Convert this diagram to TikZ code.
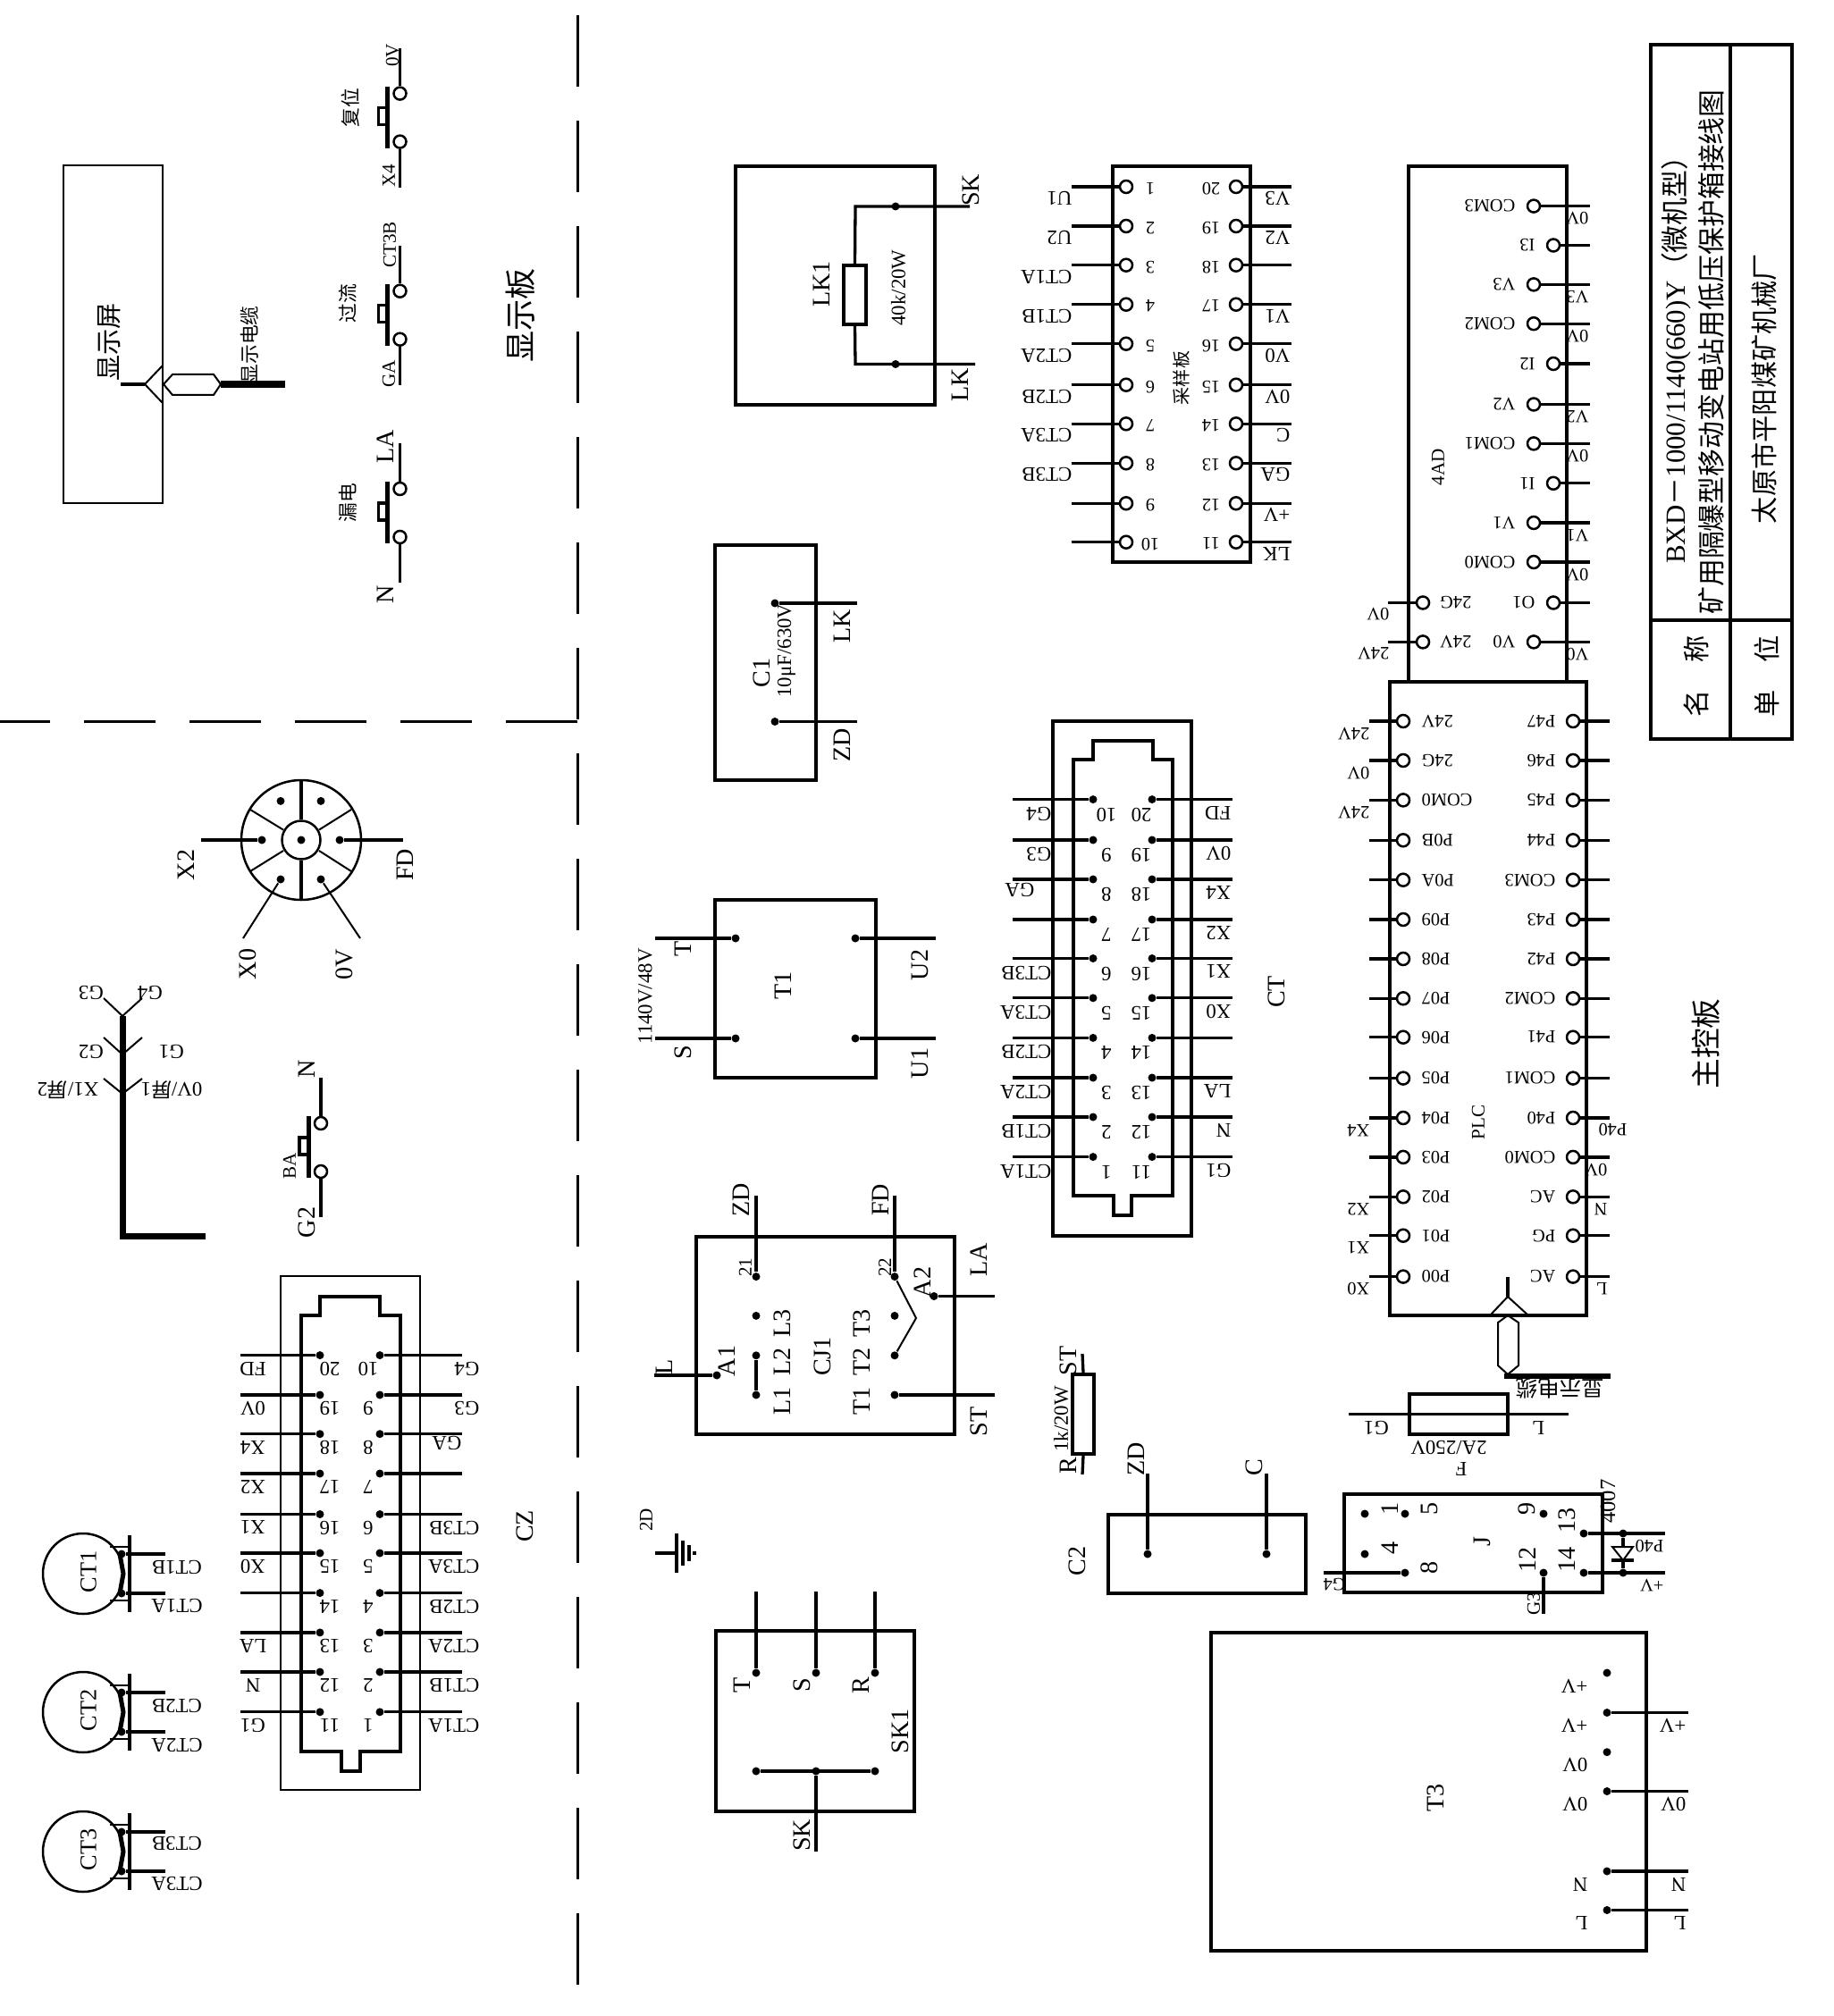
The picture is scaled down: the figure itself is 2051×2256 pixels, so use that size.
\documentclass[tikz,border=0pt]{standalone}
\usepackage{fontspec}
\setmainfont{Liberation Serif}
\newfontfamily\cjk{Noto Sans CJK SC}
\tikzset{
	wire/.style = {line width = 0.33mm},
	fine/.style = {line width = 0.2mm},
	bus/.style = {line width = 0.7mm},
	divider/.style = {line width = 0.3mm, dash pattern = on 8mm off 3.8mm},
	frame/.style = {draw, rectangle, line width = 0.42mm, inner sep = 0},
	thinframe/.style = {draw, rectangle, line width = 0.25mm, inner sep = 0},
	hollow/.style = {circle, draw, fill = white, line width = 0.25mm, minimum size = 1.4mm, inner sep = 0},
	spot/.style = {circle, fill, minimum size = 0.9mm, inner sep = 0},
	pinlab/.style = {rotate = 180, inner sep = 0, font = \fontsize{5.8}{7}\selectfont},
	bigpin/.style = {rotate = 180, inner sep = 0, font = \fontsize{6.5}{7}\selectfont},
	tag/.style = {rotate = 90, inner sep = 0, font = \fontsize{8}{9}\selectfont},
	smalltag/.style = {rotate = 90, inner sep = 0, font = \fontsize{6}{7}\selectfont},
	hanzi/.style = {rotate = 90, inner sep = 0, font = \cjk\fontsize{#1}{#1}\selectfont}
}
% box given by its two corners
\newcommand{\panel}[6][frame]{
	\node[#1, minimum width = {(#5-#3)*0.1mm}, minimum height = {(#6-#4)*0.1mm}] (#2) at ({(#3+#5)/2}, {(#4+#6)/2}) {};
}
\begin{document}
\begin{tikzpicture}[x = 0.1mm, y = -0.1mm]
	\useasboundingbox (0, 0) rectangle (2051, 2256);

	% dashed board limits
	\coordinate (vtop) at (646, 17);
	\coordinate (vbot) at (646, 2256);
	\coordinate (hleft) at (0, 807);
	\coordinate (hright) at (646, 807);
	\draw[divider] (vtop) -- (vbot);
	\draw[divider] (hright) -- (hleft);

	% title block
	\panel{title}{1847}{50}{2005}{827}
	\coordinate (tva) at (1936, 50);
	\coordinate (tvb) at (1936, 827);
	\coordinate (tha) at (1847, 694);
	\coordinate (thb) at (2005, 694);
	\draw[line width = 0.42mm] (tva) -- (tvb) (tha) -- (thb);
	\node[rotate = 90, inner sep = 0, font = \fontsize{8.8}{9}\selectfont] (tname) at (1876, 395) {BXD{\cjk－}1000/1140(660)Y{\cjk（微机型）}};
	\node[hanzi = 8.8] (tdesc) at (1915, 394) {矿用隔爆型移动变电站用低压保护箱接线图};
	\node[hanzi = 8.6] (tfirm) at (1974, 435) {太原市平阳煤矿机械厂};
	\node[hanzi = 8.6] (tming) at (1898, 787) {名};
	\node[hanzi = 8.6] (tcheng) at (1898, 726) {称};
	\node[hanzi = 8.6] (tdan) at (1977, 787) {单};
	\node[hanzi = 8.6] (twei) at (1977, 726) {位};

	% 4AD module
	\panel{adbox}{1576}{186}{1753}{763}
	\foreach \n/\x/\y/\lab/\ext in {0/1716/230.6/COM3/0V, 1/1738/274.5/I3/{}, 2/1716/318.4/V3/V3, 3/1716/362.2/COM2/0V, 4/1738/407/I2/{}, 5/1716/452.5/V2/V2, 6/1716/496.4/COM1/0V, 7/1738/540.8/I1/{}, 8/1716/585/V1/V1, 9/1716/629/COM0/0V, 10/1738/674.5/O1/{}, 11/1716/718.4/V0/V0} {
		\node[hollow] (ad\n) at (\x, \y) {};
		\coordinate (ade\n) at (1779, \y);
		\draw[wire] (ad\n) -- (ade\n);
		\node[pinlab, anchor = west] (adl\n) at ({\x-20}, \y) {\lab};
		\node[pinlab, anchor = west] (adx\n) at (1778, {\y+14}) {\ext};
	}
	\foreach \n/\y/\lab/\ext in {g/674.5/24G/0V, v/718.4/24V/24V} {
		\node[hollow] (ad\n) at (1592, \y) {};
		\coordinate (ade\n) at (1553, \y);
		\draw[wire] (ad\n) -- (ade\n);
		\node[pinlab, anchor = west] (adl\n) at (1647, \y) {\lab};
		\node[pinlab, anchor = west] (adx\n) at (1555, {\y+13}) {\ext};
	}
	\node[smalltag] (adname) at (1609, 523) {4AD};

	% PLC
	\panel{plc}{1555}{763}{1775}{1472}
	\foreach \n/\y/\la/\ra/\ea/\eb in {0/807/24V/P47/24V/{}, 1/851/24G/P46/0V/{}, 2/895.4/COM0/P45/24V/{}, 3/940.3/P0B/P44/{}/{}, 4/984.7/P0A/COM3/{}/{}, 5/1029/P09/P43/{}/{}, 6/1073/P08/P42/{}/{}, 7/1117.3/P07/COM2/{}/{}, 8/1160.7/P06/P41/{}/{}, 9/1206.6/P05/COM1/{}/{}, 10/1251/P04/P40/X4/{}, 11/1294.9/P03/COM0/{}/0V, 12/1339.3/P02/AC/X2/N, 13/1382.7/P01/PG/X1/{}, 14/1428.6/P00/AC/X0/L} {
		\node[hollow] (pa\n) at (1570, \y) {};
		\node[hollow] (pb\n) at (1760, \y) {};
		\coordinate (pae\n) at (1532, \y);
		\coordinate (pbe\n) at (1801, \y);
		\draw[wire] (pa\n) -- (pae\n);
		\draw[wire] (pb\n) -- (pbe\n);
		\node[pinlab, anchor = east] (pal\n) at (1590, \y) {\la};
		\node[pinlab, anchor = west] (pbl\n) at (1741, \y) {\ra};
		\node[pinlab, anchor = west] (pax\n) at (1533, {\y+14}) {\ea};
		\node[pinlab, anchor = west] (pbx\n) at (1799, {\y+14}) {\eb};
	}
	\node[pinlab, anchor = west] (pbp) at (1821, 1264) {P40};
	\node[smalltag] (plcname) at (1654, 1256) {PLC};

	% PLC cable plug
	\coordinate (pga) at (1687, 1429);
	\coordinate (pgb) at (1687, 1451);
	\coordinate (pgc) at (1667, 1472);
	\coordinate (pgd) at (1710, 1472);
	\coordinate (pge) at (1683, 1540);
	\coordinate (pgf) at (1802, 1540);
	\draw[wire] (pga) -- (pgb);
	\draw[fine] (pgc) -- (pgb) -- (pgd);
	\draw[fine] (1687, 1472) -- (1676, 1480) -- (1676, 1528) -- (1687, 1538) -- (1699, 1528) -- (1699, 1480) -- cycle;
	\draw[line width = 0.6mm] (pge) -- (pgf);
	\node[hanzi = 7, rotate = 90] (pgname) at (1745, 1554) {显示电缆};

	% fuse F
	\panel{fuse}{1577}{1560}{1687}{1605}
	\coordinate (fa) at (1509, 1582.5);
	\coordinate (fb) at (1755, 1582.5);
	\draw[wire] (fa) -- (fb);
	\node[bigpin] (fg) at (1540, 1598) {G1};
	\node[bigpin] (fl) at (1721, 1598) {L};
	\node[bigpin] (fv) at (1621, 1620) {2A/250V};
	\node[bigpin] (fn) at (1635, 1644) {F};

	% relay J
	\panel{relay}{1504}{1672}{1793}{1782}
	\foreach \n/\x/\y in {a/1527/1694, b/1572/1694, c/1727/1694, d/1772/1716, e/1527/1739, f/1572/1760, g/1727/1760, h/1772/1760, i/1816/1716, j/1816/1760} {
		\node[spot] (j\n) at (\x, \y) {};
	}
	\foreach \n/\x/\y/\lab in {1/1555/1688/1, 5/1599/1688/5, 4/1555/1732/4, 8/1599/1754/8, 0/1658/1725/J, 9/1708/1688/9, 12/1709/1745/12, 13/1753/1701/13, 14/1753/1745/14} {
		\node[tag] (jl\n) at (\x, \y) {\lab};
	}
	\coordinate (jga) at (1481, 1760);
	\coordinate (jgb) at (1727, 1806);
	\coordinate (jpa) at (1863, 1716);
	\coordinate (jpb) at (1863, 1760);
	\draw[wire] (jga) -- (jf);
	\draw[wire] (jg) -- (jgb);
	\draw[wire] (jd) -- (jpa);
	\draw[wire] (jh) -- (jpb);
	\node[pinlab] (jgl) at (1493, 1773) {G4};
	\node[smalltag] (jgm) at (1716, 1795) {G3};
	\node[rotate = 90, inner sep = 0, font = \fontsize{7}{8}\selectfont] (jdn) at (1799, 1680) {4007};
	\node[pinlab, anchor = west] (jpl) at (1862, 1730) {P40};
	\node[pinlab, anchor = west] (jpm) at (1862, 1774) {+V};
	% diode
	\coordinate (dta) at (1816, 1731);
	\coordinate (dtb) at (1816, 1746);
	\draw[wire] (ji) -- (dta) (dtb) -- (jj);
	\draw[fine] (1804, 1731) -- (1827, 1731) -- (dtb) -- cycle;
	\draw[wire] (1803, 1746) -- (1828, 1746);

	% T3
	\panel{tthree}{1355}{1827}{1842}{2183}
	\foreach \n/\y/\lab/\ext in {a/1872/+V/{}, b/1916.5/+V/+V, c/1960.7/0V/{}, d/2004.5/0V/0V, e/2094/N/N, f/2137.5/L/L} {
		\node[spot] (tt\n) at (1798, \y) {};
		\node[bigpin, anchor = west] (ttl\n) at (1777, {\y+14.5}) {\lab};
		\node[bigpin, anchor = west] (ttx\n) at (1887, {\y+14.5}) {\ext};
	}
	\foreach \n/\y in {b/1916.5, d/2004.5, e/2094, f/2137.5} {
		\coordinate (tte\n) at (1889, \y);
		\draw[wire] (tt\n) -- (tte\n);
	}
	\node[tag] (ttname) at (1606, 2012) {T3};

	% C2
	\panel{ctwo}{1240}{1695}{1461}{1783}
	\node[spot] (cta) at (1284, 1739) {};
	\node[spot] (ctb) at (1417, 1739) {};
	\coordinate (ctc) at (1284, 1649);
	\coordinate (ctd) at (1417, 1649);
	\draw[wire] (cta) -- (ctc);
	\draw[wire] (ctb) -- (ctd);
	\node[tag] (ctzd) at (1271, 1633) {ZD};
	\node[tag] (ctcc) at (1403, 1642) {C};
	\node[tag] (ctname) at (1205, 1747) {C2};

	% resistor R
	\panel{rbox}{1200}{1538}{1224}{1627}
	\coordinate (ra) at (1211, 1515);
	\coordinate (rb) at (1211, 1650);
	\draw[wire] (ra) -- (rbox.north);
	\draw[wire] (rbox.south) -- (rb);
	\node[tag] (rst) at (1195, 1523) {ST};
	\node[tag] (rr) at (1195, 1640) {R};
	\node[rotate = 90, inner sep = 0, font = \fontsize{6.5}{7}\selectfont] (rv) at (1187, 1588) {1k/20W};

	% contactor CJ1
	\panel{cjbox}{779}{1384}{1068}{1605}
	\foreach \n/\y in {a/1428.6, b/1472.4, c/1516.8, d/1561} {
		\node[spot] (cl\n) at (846, \y) {};
		\node[spot] (cr\n) at (1001, \y) {};
	}
	\node[spot] (cae) at (1045, 1450.5) {};
	\node[spot] (cal) at (802, 1539) {};
	\coordinate (cza) at (846, 1338);
	\coordinate (czb) at (1001, 1338);
	\coordinate (czc) at (1113, 1450.5);
	\coordinate (czd) at (1113, 1561);
	\coordinate (cze) at (732, 1539);
	\coordinate (coil) at (1025, 1475);
	\draw[wire] (cla) -- (cza);
	\draw[wire] (cra) -- (czb);
	\draw[wire] (cae) -- (czc);
	\draw[wire] (crd) -- (czd);
	\draw[wire] (cal) -- (cze);
	\draw[line width = 0.45mm] (clc) -- (cld);
	\draw[fine] (cra) -- (coil) -- (crc);
	\foreach \n/\x/\y/\lab in {zd/829/1343/ZD, fd/985/1343/FD, az/1032/1435/A2, la/1095/1410/LA, st/1095/1591/ST, ay/813/1523/A1, ll/743/1530/L, la1/875/1568/L1, la2/875/1524/L2, la3/875/1481/L3, ta1/964/1568/T1, ta2/964/1524/T2, ta3/964/1481/T3, nm/920/1518/CJ1} {
		\node[tag] (cj\n) at (\x, \y) {\lab};
	}
	\node[smalltag] (cjo) at (834, 1418) {21};
	\node[smalltag] (cjt) at (990, 1418) {22};

	% switch SK1
	\panel{skbox}{801}{1825}{1023}{2027}
	\foreach \n/\x/\lab in {a/846/T, b/913/S, c/979/R} {
		\node[spot] (sk\n) at (\x, 1872) {};
		\node[spot] (sd\n) at (\x, 1982) {};
		\coordinate (se\n) at (\x, 1781);
		\draw[wire] (sk\n) -- (se\n);
		\node[tag] (sl\n) at ({\x-16}, 1886) {\lab};
	}
	\coordinate (sout) at (913, 2072);
	\draw[wire] (sda) -- (sdc);
	\draw[wire] (sdb) -- (sout);
	\node[tag] (skout) at (897, 2054) {SK};
	\node[tag] (skname) at (1007, 1937) {SK1};

	% earth
	\coordinate (ea) at (733, 1738);
	\coordinate (eb) at (757, 1738);
	\draw[wire] (ea) -- (eb);
	\draw[wire] (757, 1716) -- (757, 1760);
	\draw[wire] (764, 1724) -- (764, 1752);
	\draw[wire] (771, 1729) -- (771, 1747);
	\draw[wire] (777, 1736) -- (777, 1740);
	\node[smalltag] (ename) at (723, 1701) {2D};

	% T1
	\panel{tone}{800}{1007}{980}{1206}
	\foreach \n/\x/\e/\y in {a/823/733/1050, b/823/733/1162, c/957/1047/1050, d/957/1047/1162} {
		\node[spot] (to\n) at (\x, \y) {};
		\coordinate (te\n) at (\e, \y);
		\draw[wire] (to\n) -- (te\n);
	}
	\foreach \n/\x/\y/\lab in {t/764/1062/T, s/764/1178/S, u/1029/1080/U2, v/1029/1190/U1, m/876/1103/T1} {
		\node[tag] (tl\n) at (\x, \y) {\lab};
	}
	\node[rotate = 90, inner sep = 0, font = \fontsize{6.5}{7}\selectfont] (tlr) at (722, 1115) {1140V/48V};

	% C1
	\panel{cone}{800}{610}{913}{873}
	\node[spot] (coa) at (867, 675) {};
	\node[spot] (cob) at (867, 807.5) {};
	\coordinate (coc) at (959, 675);
	\coordinate (cod) at (959, 807.5);
	\draw[wire] (coa) -- (coc);
	\draw[wire] (cob) -- (cod);
	\node[tag] (coname) at (852, 753) {C1};
	\node[rotate = 90, inner sep = 0, font = \fontsize{6.5}{7}\selectfont] (cov) at (880, 728) {10μF/630V};
	\node[tag] (colk) at (942, 701) {LK};
	\node[tag] (cozd) at (942, 834) {ZD};

	% LK1
	\panel{lkbox}{823}{186}{1046}{453}
	\panel{lkres}{944}{297}{969}{363}
	\node[spot] (lka) at (1002, 231) {};
	\node[spot] (lkb) at (1002, 407.5) {};
	\coordinate (lkc) at (957, 231);
	\coordinate (lkd) at (957, 407.5);
	\coordinate (lke) at (1085, 231);
	\coordinate (lkf) at (1091, 407.5);
	\draw[wire] (lke) -- (lkc) -- (lkres.north);
	\draw[wire] (lkf) -- (lkd) -- (lkres.south);
	\node[tag] (lkname) at (919, 318) {LK1};
	\node[rotate = 90, inner sep = 0, font = \fontsize{6.5}{7}\selectfont] (lkv) at (1005, 322) {40k/20W};
	\node[tag] (lksk) at (1086, 213) {SK};
	\node[tag] (lklk) at (1074, 431) {LK};

	% sampling board
	\panel{cyb}{1245}{186}{1399}{629}
	\foreach \n/\m/\y/\la/\ra in {1/20/209/U1/V3, 2/19/253/U2/V2, 3/18/296.7/CT1A/{}, 4/17/340.7/CT1B/V1, 5/16/384.7/CT2A/V0, 6/15/430.7/CT2B/0V, 7/14/474.3/CT3A/C, 8/13/518.3/CT3B/GA, 9/12/563.3/{}/+V, 10/11/606.7/{}/LK} {
		\node[hollow] (cyl\n) at (1260, \y) {};
		\node[hollow] (cyr\n) at (1383, \y) {};
		\coordinate (cyle\n) at (1199, \y);
		\coordinate (cyre\n) at (1445, \y);
		\draw[wire] (cyl\n) -- (cyle\n);
		\draw[wire] (cyr\n) -- (cyre\n);
		\node[pinlab] (cyn\n) at (1287, {\y+2}) {\n};
		\node[pinlab] (cym\n) at (1355, {\y+2}) {\m};
		\node[bigpin, anchor = west] (cyt\n) at (1200, {\y+13}) {\la};
		\node[bigpin, anchor = west] (cyu\n) at (1444, {\y+13}) {\ra};
	}
	\node[hanzi = 5.7] (cyname) at (1322, 423) {采样板};

	% connector CT
	\panel{ctout}{1178}{807}{1333}{1383}
	\draw[line width = 0.42mm] (1201, 850) -- (1223, 850) -- (1223, 829) -- (1290, 829) -- (1290, 850) -- (1312, 850) -- (1312, 1338) -- (1266, 1338) -- (1266, 1360) -- (1246, 1360) -- (1246, 1338) -- (1201, 1338) -- cycle;
	\foreach \n/\m/\y/\la/\ra in {10/20/894.6/G4/FD, 9/19/940/G3/0V, 8/18/984/{}/X4, 7/17/1029/{}/X2, 6/16/1072.5/CT3B/X1, 5/15/1116.8/CT3A/X0, 4/14/1161.4/CT2B/{}, 3/13/1206/CT2A/LA, 2/12/1250/CT1B/N, 1/11/1294.6/CT1A/G1} {
		\node[spot] (ctl\n) at (1223, \y) {};
		\node[spot] (ctr\n) at (1289, \y) {};
		\coordinate (ctle\n) at (1133, \y);
		\coordinate (ctre\n) at (1379, \y);
		\draw[wire] (ctl\n) -- (ctle\n);
		\draw[wire] (ctr\n) -- (ctre\n);
		\node[bigpin] (ctn\n) at (1238, {\y+17}) {\n};
		\node[bigpin] (ctm\n) at (1277, {\y+17}) {\m};
		\node[bigpin, anchor = west] (ctt\n) at (1177, {\y+16}) {\la};
		\node[bigpin, anchor = west] (ctu\n) at (1378, {\y+15}) {\ra};
	}
	\node[bigpin, anchor = west] (ctga) at (1158, 996) {GA};
	\node[tag] (ctconn) at (1428, 1110) {CT};

	% connector CZ
	\panel[thinframe]{czout}{314}{1428}{470}{2003}
	\draw[line width = 0.42mm] (337, 1472) -- (358, 1472) -- (358, 1451) -- (425, 1451) -- (425, 1472) -- (448, 1472) -- (448, 1960) -- (403, 1960) -- (403, 1982) -- (382, 1982) -- (382, 1960) -- (337, 1960) -- cycle;
	\foreach \n/\m/\y/\la/\ra in {10/20/1516.6/G4/FD, 9/19/1561/G3/0V, 8/18/1604.7/{}/X4, 7/17/1649/{}/X2, 6/16/1694.5/CT3B/X1, 5/15/1738/CT3A/X0, 4/14/1782.6/CT2B/{}, 3/13/1826.9/CT2A/LA, 2/12/1871/CT1B/N, 1/11/1915.8/CT1A/G1} {
		\node[spot] (czl\m) at (358, \y) {};
		\node[spot] (czr\n) at (425, \y) {};
		\coordinate (czle\m) at (269, \y);
		\coordinate (czre\n) at (517, \y);
		\draw[wire] (czl\m) -- (czle\m);
		\draw[wire] (czr\n) -- (czre\n);
		\node[bigpin] (czn\m) at (369, {\y+15}) {\m};
		\node[bigpin] (czm\n) at (412, {\y+15}) {\n};
		\node[bigpin] (czt\m) at (283, {\y+15}) {\ra};
		\node[bigpin, anchor = west] (czu\n) at (537, {\y+15}) {\la};
	}
	\node[bigpin, anchor = west] (czga) at (517, 1615) {GA};
	\node[tag] (czconn) at (587, 1708) {CZ};

	% current transformers
	\foreach \k/\c/\a/\b in {1/1761/1754/1797, 2/1916/1909/1953, 3/2072/2063/2108} {
		\node[circle, draw, line width = 0.25mm, minimum size = 9mm, inner sep = 0] (ctc\k) at (93, \c) {};
		\node[rotate = 90, inner sep = 0, font = \fontsize{7.5}{8}\selectfont] (ctv\k) at (99, {\c-2}) {CT\k};
		\draw[wire] (145, {\c-43}) -- (145, {\c+43});
		\draw[fine] (123, {\c-30}) -- (145, {\c-30}) (123, {\c+30}) -- (145, {\c+30});
		\draw[line width = 0.5mm] (134, {\c-22}) -- (138, \c) -- (134, {\c+22});
		\node[spot] (cts\k) at (136, {\c-22}) {};
		\node[spot] (ctp\k) at (136, {\c+22}) {};
		\coordinate (ctbe\k) at (185, {\c-22});
		\coordinate (ctae\k) at (185, {\c+22});
		\draw[wire] (cts\k) -- (ctbe\k);
		\draw[wire] (ctp\k) -- (ctae\k);
		\node[bigpin] (ctbl\k) at (198, \a) {CT\k B};
		\node[bigpin] (ctal\k) at (198, \b) {CT\k A};
	}

	% round plug
	\node[circle, draw, line width = 0.25mm, minimum size = 13.4mm, inner sep = 0] (plug) at (337, 940) {};
	\node[circle, draw, line width = 0.25mm, minimum size = 4.3mm, inner sep = 0] (hub) at (337, 940) {};
	\draw[wire] (hub.north) -- (plug.north);
	\draw[wire] (hub.south) -- (plug.south);
	\foreach \xa/\ya/\xb/\yb in {317/928.6/280/906, 357/928.6/393/906, 317/952/280/975, 357/952/393/975} {
		\draw[fine] (\xa, \ya) -- (\xb, \yb);
	}
	\foreach \n/\x/\y in {a/314/896.4, b/359/896.4, c/293/940, d/380/940, e/314/984, f/359/984, g/337/940} {
		\node[spot] (pl\n) at (\x, \y) {};
	}
	\coordinate (plx) at (225, 940);
	\coordinate (ply) at (451, 940);
	\coordinate (plz) at (272, 1050);
	\coordinate (plw) at (403, 1050);
	\draw[wire] (plc) -- (plx);
	\draw[wire] (pld) -- (ply);
	\draw[fine] (ple) -- (plz);
	\draw[fine] (plf) -- (plw);
	\foreach \n/\x/\y/\lab in {x/208/968/X2, f/453/968/FD, o/277/1079/X0, v/385/1079/0V} {
		\node[tag] (pt\n) at (\x, \y) {\lab};
	}

	% earth bus
	\coordinate (bt) at (137, 1137);
	\coordinate (bc) at (137, 1383);
	\coordinate (be) at (230, 1383);
	\draw[bus] (bt) -- (bc) -- (be);
	\foreach \n/\y/\ya in {a/1137/1117, b/1180/1161, c/1224/1207} {
		\coordinate (bl\n) at (137, \y);
		\coordinate (bm\n) at (116, \ya);
		\coordinate (br\n) at (159, \ya);
		\draw[fine] (bm\n) -- (bl\n) -- (br\n);
	}
	\node[bigpin] (bga) at (102, 1111) {G3};
	\node[bigpin] (bgb) at (168, 1111) {G4};
	\node[bigpin] (bgc) at (102, 1177) {G2};
	\node[bigpin] (bgd) at (192, 1177) {G1};
	\node[bigpin] (bge) at (76, 1220) {X1/{\cjk 屏}2};
	\node[bigpin] (bgf) at (192, 1220) {0V/{\cjk 屏}1};

	% push buttons
	\foreach \k/\x/\c in {rs/447.5/104.6, oc/447.5/325.7, lk/447.5/547, ba/359/1257} {
		\node[hollow] (\k a) at (\x, \c) {};
		\node[hollow] (\k b) at (\x, {\c+54}) {};
		\coordinate (\k c) at (\x, {\c-51});
		\coordinate (\k d) at (\x, {\c+105});
		\draw[wire] (\k a) -- (\k c);
		\draw[wire] (\k b) -- (\k d);
		\draw[line width = 0.5mm] ({\x-14}, {\c-8}) -- ({\x-14}, {\c+61});
		\draw[line width = 0.35mm] ({\x-14}, {\c+16}) -- ({\x-24}, {\c+16}) -- ({\x-24}, {\c+35}) -- ({\x-14}, {\c+35});
	}
	\foreach \n/\x/\y/\lab in {a/439/62/0V, b/435/197/X4, c/436/274/CT3B, d/435/418/GA, f/324/1305/BA} {
		\node[smalltag] (sw\n) at (\x, \y) {\lab};
	}
	\foreach \n/\x/\y/\lab in {g/431/500/LA, h/431/665/N, i/343/1196/N, j/343/1368/G2} {
		\node[tag] (sw\n) at (\x, \y) {\lab};
	}
	\node[hanzi = 6.2] (swre) at (392, 121) {复位};
	\node[hanzi = 6.2] (swov) at (389, 340) {过流};
	\node[hanzi = 6.2] (swle) at (389, 563) {漏电};

	% display screen
	\panel[thinframe]{screen}{71}{185}{182}{563}
	\node[hanzi = 8.3] (scname) at (122, 383) {显示屏};
	\coordinate (sca) at (135, 430);
	\coordinate (scb) at (162, 430);
	\coordinate (scc) at (247, 430);
	\coordinate (scd) at (319, 430);
	\draw[wire] (sca) -- (scb);
	\draw[fine] (182, 409) -- (scb) -- (182, 451);
	\draw[fine] (183, 430) -- (193, 419) -- (239, 419) -- (scc) -- (239, 442) -- (193, 442) -- cycle;
	\draw[line width = 0.8mm] (scc) -- (scd);
	\node[hanzi = 6.2] (sccable) at (279, 386) {显示电缆};

	% board names
	\node[hanzi = 10] (dispboard) at (582, 353) {显示板};
	\node[hanzi = 9.6] (mainboard) at (1909, 1168) {主控板};
\end{tikzpicture}
\end{document}
